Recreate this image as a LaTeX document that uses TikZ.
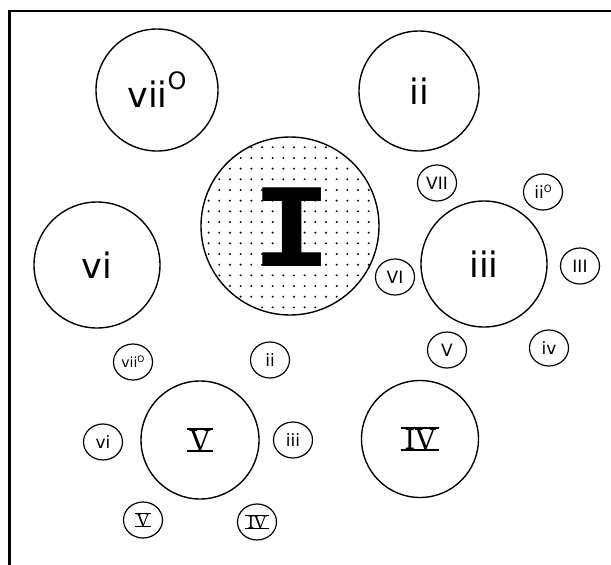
\documentclass[tikz,border=0pt]{standalone}
\usepackage{fontspec}
\usetikzlibrary{shapes.geometric}
\setmainfont{DejaVu Sans}
\newfontfamily\romfont{DejaVu Serif}
\newfontfamily\slabfont{DejaVu Sans Mono}
\newcommand\barred[1]{\setbox0\hbox{\kern0.12em#1\kern0.12em}\vbox{\hrule width\wd0 height 0.08em\kern-0.02em\box0\kern-0.01em\hrule height 0.08em}}
\newcommand\dimO[2]{\raisebox{#1}{\fontsize{#2}{#2}\selectfont O}}
\tikzset{
  bigcirc/.style={circle, draw, line width=1.4pt, minimum size=#1, inner sep=0pt,
    font=\fontsize{35}{35}\selectfont},
  smallcirc/.style={ellipse, draw, line width=1.2pt, minimum width=39pt, minimum height=36pt,
    inner sep=0pt, font=\fontsize{17}{17}\selectfont},
  bigrom/.style={font=\fontsize{28}{28}\selectfont\romfont},
  smallrom/.style={font=\fontsize{17}{17}\selectfont\romfont}
}
\begin{document}
\begin{tikzpicture}[x=1pt,y=-1pt]
\useasboundingbox (0,0) rectangle (611,565);
\coordinate (fr1) at (611,11);
\coordinate (fr2) at (9.5,11);
\coordinate (fr3) at (9.5,565);
\draw[line width=2.2pt] (fr1) -- (fr2) -- (fr3);

% big circles
\node[bigcirc=122pt] (vii) at (157,90) {vii\dimO{18pt}{24}};
\node[bigcirc=120pt] (ii) at (419,91) {ii};
\node[bigcirc=126pt] (vi) at (97,265) {vi};
\node[bigcirc=126pt] (iii) at (484,264) {iii};
\node[bigcirc=178pt, path picture={
   \foreach \i in {-9,...,9}{\foreach \j in {-9,...,9}{
     \fill (path picture bounding box.center) ++(\i*10.67pt+4pt,\j*10.67pt+4pt) circle (1.1pt);}}
  }] (I) at (290,226) {};
\node[font=\fontsize{108}{108}\slabfont\bfseries, xscale=1.25, inner sep=0pt] (Ilab) at (292.5,227.5) {I};
\node[bigcirc=118pt] (V) at (200,440) {};
\node[bigrom] (Vlab) at (V.center) {\barred{V}};
\node[bigcirc=117pt] (IV) at (420,439) {};
\node[bigrom] (IVlab) at (IV.center) {\barred{IV}};

% small circles around iii
\node[smallcirc] (sVII) at (437,183) {VII};
\node[smallcirc] (sii0) at (543,192) {ii\dimO{6pt}{10}};
\node[smallcirc] (sIII) at (580,266) {III};
\node[smallcirc] (siv) at (549,348) {iv};
\node[smallcirc] (sV) at (447,350) {V};
\node[smallcirc] (sVI) at (395,277) {VI};

% small circles around V
\node[smallcirc] (tvii0) at (133,362) {\fontsize{14}{14}\selectfont vii\dimO{5pt}{9}};
\node[smallcirc] (tii) at (270,360) {ii};
\node[smallcirc] (tiii) at (293,440) {iii};
\node[smallcirc] (tvi) at (103,442) {vi};
\node[smallcirc] (tV) at (143,520) {};
\node[smallrom] at (tV.center) {\barred{V}};
\node[smallcirc] (tIV) at (257,522) {};
\node[smallrom] at (tIV.center) {\barred{IV}};
\end{tikzpicture}
\end{document}
